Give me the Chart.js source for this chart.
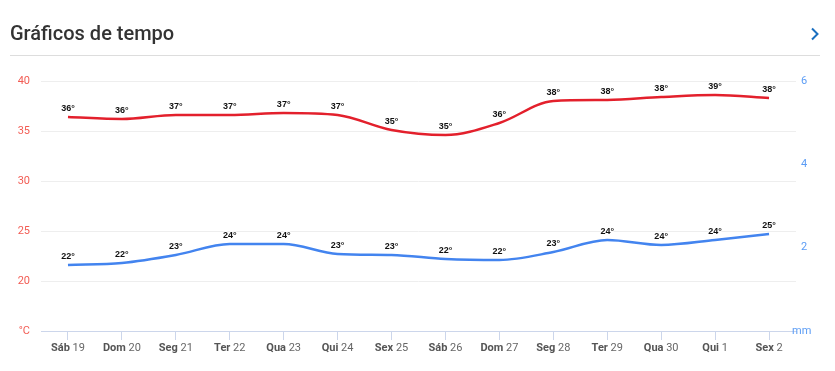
<!DOCTYPE html>
<html>
<head>
<meta charset="utf-8">
<script src="https://cdn.jsdelivr.net/npm/chart.js@4.4.0/dist/chart.umd.min.js"></script>
<style>
body { margin: 0; background: #fff; font-family: Roboto, sans-serif; }
#wrap { position: relative; width: 835px; height: 371px; overflow: hidden; }
#chart { position: absolute; left: 0; top: 0; }
#title { position: absolute; left: 10px; top: 21px; font-size: 20px; font-weight: 500; color: #333; }
#rule { position: absolute; left: 10px; width: 810px; top: 55px; height: 1px; background: #ddd; }
#chev { position: absolute; left: 810px; top: 27px; }
</style>
</head>
<body>
<div id="wrap">
    <canvas id="chart" width="835" height="371"></canvas>
    <div id="title">Gráficos de tempo</div>
    <svg id="chev" width="10" height="14"><polyline points="2,1.5 7.5,7 2,12.5" fill="none" stroke="#1a6fc0" stroke-width="2"/></svg>
    <div id="rule"></div>
</div>
<script>
// dias e datas
const days = ['Sáb', 'Dom', 'Seg', 'Ter', 'Qua', 'Qui', 'Sex', 'Sáb', 'Dom', 'Seg', 'Ter', 'Qua', 'Qui', 'Sex'];
const dates = ['19', '20', '21', '22', '23', '24', '25', '26', '27', '28', '29', '30', '1', '2'];

// temperaturas (°C)
const maxTemps = [36.4, 36.2, 36.6, 36.6, 36.8, 36.6, 35.1, 34.6, 35.8, 38.0, 38.1, 38.4, 38.6, 38.3];
const minTemps = [21.6, 21.8, 22.6, 23.7, 23.7, 22.7, 22.6, 22.2, 22.1, 22.9, 24.1, 23.6, 24.1, 24.7];

// eixos
const tempMin = 15, tempMax = 40, tempStep = 5;
const rainMin = 0, rainMax = 6, rainStep = 2;
const rainUnit = 'mm';

const valueLabels = {
    id: 'valueLabels',
    afterDatasetsDraw(chart) {
        const ctx = chart.ctx;
        ctx.save();
        ctx.font = 'bold 9px "Liberation Sans", Arial, sans-serif';
        ctx.textAlign = 'center';
        ctx.textBaseline = 'middle';
        ctx.lineJoin = 'round';
        chart.data.datasets.forEach((ds, i) => {
            chart.getDatasetMeta(i).data.forEach((pt, j) => {
                const txt = Math.round(ds.data[j]) + '°';
                ctx.lineWidth = 2;
                ctx.strokeStyle = '#fff';
                ctx.strokeText(txt, pt.x, pt.y - 8);
                ctx.fillStyle = '#111';
                ctx.fillText(txt, pt.x, pt.y - 8);
            });
        });
        ctx.restore();
    }
};

const dayLabels = {
    id: 'dayLabels',
    afterDraw(chart) {
        const ctx = chart.ctx;
        const xs = chart.scales.x;
        const y = chart.chartArea.bottom + 17;
        ctx.save();
        ctx.textBaseline = 'middle';
        ctx.textAlign = 'left';
        days.forEach((d, i) => {
            const x = xs.getPixelForValue(i);
            ctx.font = 'bold 11px Roboto';
            const w1 = ctx.measureText(d + ' ').width;
            ctx.font = '11px Roboto';
            const w2 = ctx.measureText(dates[i]).width;
            const start = x - (w1 + w2) / 2;
            ctx.fillStyle = '#555';
            ctx.font = 'bold 11px Roboto';
            ctx.fillText(d + ' ', start, y);
            ctx.font = '11px Roboto';
            ctx.fillStyle = '#666';
            ctx.fillText(dates[i], start + w1, y);
        });
        // unidade do eixo direito
        const r = chart.scales.y1;
        ctx.font = '11px Roboto';
        ctx.fillStyle = '#5b9cf5';
        ctx.fillText(rainUnit, chart.chartArea.right - 4, r.getPixelForValue(rainMin));
        ctx.restore();
    }
};

new Chart(document.getElementById('chart'), {
    type: 'line',
    data: {
        labels: days.map((d, i) => d + ' ' + dates[i]),
        datasets: [{
            label: 'Máxima',
            data: maxTemps,
            borderColor: '#e3202c',
            borderWidth: 2.5,
            pointRadius: 0,
            cubicInterpolationMode: 'monotone',
            yAxisID: 'y'
        }, {
            label: 'Mínima',
            data: minTemps,
            borderColor: '#4384ef',
            borderWidth: 2.5,
            pointRadius: 0,
            cubicInterpolationMode: 'monotone',
            yAxisID: 'y'
        }]
    },
    options: {
        responsive: false,
        animation: false,
        layout: { padding: { top: 81, left: 0, right: 0, bottom: 0 } },
        plugins: {
            legend: { display: false },
            tooltip: { enabled: false }
        },
        scales: {
            x: {
                offset: true,
                grid: { drawOnChartArea: false, drawTicks: true, tickLength: 9, color: '#ccd6eb', offset: false },
                border: { color: '#ccd6eb' },
                ticks: { color: 'rgba(0,0,0,0)', font: { size: 11 } },
                afterFit: s => { s.height = 40; }
            },
            y: {
                position: 'left',
                min: tempMin,
                max: tempMax,
                grid: { color: c => c.tick.value === tempMin ? 'rgba(0,0,0,0)' : '#eeeeee', drawTicks: false },
                border: { display: false },
                ticks: {
                    stepSize: tempStep,
                    padding: 11,
                    color: '#f25c54',
                    font: { family: 'Roboto', size: 11 },
                    callback: v => v === tempMin ? '°C' : v
                },
                afterFit: s => { s.width = 41; }
            },
            y1: {
                position: 'right',
                min: rainMin,
                max: rainMax,
                grid: { display: false, drawTicks: false },
                border: { display: false },
                ticks: {
                    stepSize: rainStep,
                    padding: 5,
                    color: '#5b9cf5',
                    font: { family: 'Roboto', size: 11 },
                    callback: v => v === rainMin ? '' : v
                },
                afterFit: s => { s.width = 39; }
            }
        }
    },
    plugins: [valueLabels, dayLabels]
});
</script>
</body>
</html>
